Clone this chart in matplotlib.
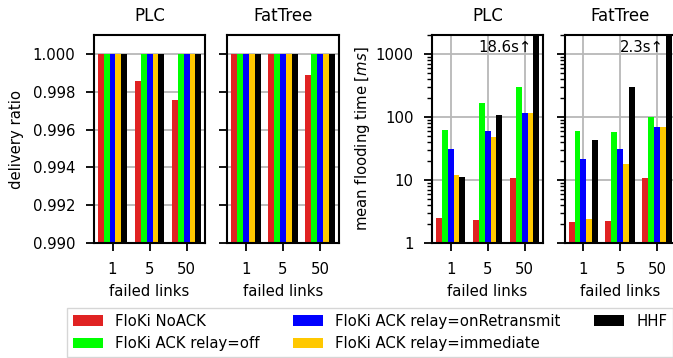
import matplotlib
matplotlib.use('Agg')
import matplotlib.pyplot as plt
import matplotlib.ticker as mticker
import numpy as np

plt.rcParams['font.family'] = ['DejaVu Sans']
plt.rcParams['font.size'] = 10.7

# data
failed_links = ['1', '5', '50']
series = ['FloKi NoACK', 'FloKi ACK relay=off', 'FloKi ACK relay=onRetransmit',
          'FloKi ACK relay=immediate', 'HHF']
colors = ['#e02222', '#00ff00', '#0000ff', '#ffc800', '#000000']

# delivery ratio per series, for 1 / 5 / 50 failed links
plc_delivery = [
    [1.0, 0.99858, 0.99757],
    [1.0, 1.0, 1.0],
    [1.0, 1.0, 1.0],
    [1.0, 1.0, 1.0],
    [1.0, 1.0, 1.0],
]
fattree_delivery = [
    [1.0, 1.0, 0.99888],
    [1.0, 1.0, 1.0],
    [1.0, 1.0, 1.0],
    [1.0, 1.0, 1.0],
    [1.0, 1.0, 1.0],
]
# mean flooding time in ms
plc_flood = [
    [2.48, 2.33, 10.8],
    [63.4, 169, 304],
    [31.6, 61, 117],
    [12.2, 49, 117],
    [11.2, 106, 18600],
]
fattree_flood = [
    [2.16, 2.24, 10.8],
    [60.4, 58.2, 101],
    [21.6, 31.6, 69],
    [2.41, 18.2, 69],
    [44, 304, 2300],
]
clip_labels = ['18.6s\u2191', '2.3s\u2191']

bar_width = 0.16
x = np.arange(len(failed_links))

fig = plt.figure(figsize=(6.73, 3.58), dpi=100)
bottom, height = 0.321, 0.581
ax1 = fig.add_axes([0.1397, bottom, 0.165, height])
ax2 = fig.add_axes([0.3373, bottom, 0.166, height])
ax3 = fig.add_axes([0.642, bottom, 0.165, height])
ax4 = fig.add_axes([0.8395, bottom, 0.164, height])


def draw(ax, data):
    bars = []
    for i, vals in enumerate(data):
        b = ax.bar(x + (i - 2) * bar_width, vals, bar_width, color=colors[i],
                   label=series[i], zorder=2)
        bars.append(b)
    ax.set_xticks(x)
    ax.set_xticklabels(failed_links)
    ax.set_xlim(-0.5, 2.5)
    ax.set_xlabel('failed links', labelpad=5)
    for s in ax.spines.values():
        s.set_linewidth(1.5)
    ax.tick_params(which='major', length=6, width=1.3, pad=7.5)
    ax.tick_params(which='minor', length=3.5, width=1.0)
    ax.set_axisbelow(True)
    return bars


# delivery ratio
handles = draw(ax1, plc_delivery)
draw(ax2, fattree_delivery)
for ax, t in [(ax1, 'PLC'), (ax2, 'FatTree')]:
    ax.set_ylim(0.99, 1.001)
    ax.set_yticks([0.990, 0.992, 0.994, 0.996, 0.998, 1.000])
    ax.yaxis.set_major_formatter(mticker.FormatStrFormatter('%.3f'))
    ax.grid(axis='y', color='#b8b8b8', linewidth=1.3)
    ax.set_title(t, fontsize=12, pad=10)
ax1.set_ylabel('delivery ratio', labelpad=6)
ax2.set_yticklabels([])

# flooding time
draw(ax3, plc_flood)
draw(ax4, fattree_flood)
for ax, t, lab in [(ax3, 'PLC', clip_labels[0]), (ax4, 'FatTree', clip_labels[1])]:
    ax.set_yscale('log')
    ax.set_ylim(1, 2000)
    ax.yaxis.set_major_locator(mticker.LogLocator(base=10))
    ax.yaxis.set_major_formatter(mticker.FuncFormatter(lambda v, p: '%d' % v))
    ax.yaxis.set_minor_formatter(mticker.NullFormatter())
    ax.grid(which='major', color='#b8b8b8', linewidth=1.3)
    ax.set_title(t, fontsize=12, pad=10)
    ax.text(2.2, 1250, lab, ha='right', va='center', fontsize=10.7, zorder=3)
ax3.set_ylabel('mean flooding time [$ms$]', labelpad=2.5)
ax4.set_yticklabels([])

fig.legend(handles=handles, loc='upper left', bbox_to_anchor=(0.0996, 0.14),
           ncol=3, fontsize=10.7, fancybox=False, edgecolor='#cccccc',
           borderaxespad=0, handlelength=2.0, handletextpad=0.8,
           columnspacing=2.3)

fig.savefig('out.png', dpi=100)
